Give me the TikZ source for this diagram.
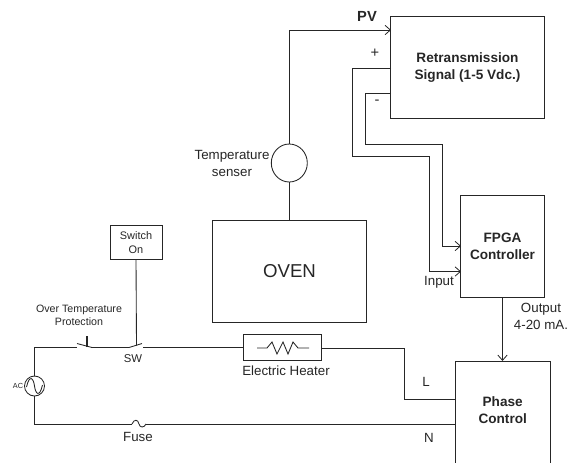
\documentclass[tikz,border=0pt]{standalone}
\usepackage{fontspec}
\setmainfont{Liberation Sans}
\usetikzlibrary{arrows.meta,positioning,shapes.geometric,calc}
\tikzset{every node/.append style={inner sep=0pt,outer sep=0pt,align=center}}

\begin{document}
\begin{tikzpicture}[x=0.75pt,y=-0.75pt,line width=0.65pt,black!85,
  lab/.style={font=\fontsize{10}{12.7}\selectfont,text=black!85},
  tiny/.style={font=\fontsize{8.2}{10.5}\selectfont,text=black!85},
  head/.style={font=\fontsize{10.2}{12.7}\selectfont\bfseries,text=black!85},
  box/.style={draw,rectangle},
  wire/.style={-{Straight Barb[length=4pt,width=7pt,line width=0.6pt]}}]
\useasboundingbox (0,0) rectangle (577,462);
\clip (0,0) rectangle (577,462);
% blocks
\node[box,head,minimum width=115pt,minimum height=76pt] (retrans) at (467.5,67.5) {Retransmission\\Signal (1-5 Vdc.)};
\node[box,head,minimum width=62.5pt,minimum height=76.5pt] (fpga) at (502.5,246) {FPGA\\Controller};
\node[box,minimum width=71.5pt,minimum height=80pt] (phase) at (502.7,414.3) {};
\node[head] (phaselab) at (502.7,410.5) {Phase\\Control};
\node[box,font=\fontsize{14}{16}\selectfont,text=black!85,minimum width=115pt,minimum height=76.5pt] (oven) at (289.5,271) {OVEN};
\node[box,tiny,minimum width=39pt,minimum height=25pt] (swon) at (136,242.5) {Switch\\On};
\node[box,minimum width=58pt,minimum height=19pt] (heater) at (282.5,347.5) {};
\node[draw,ellipse,minimum width=27pt,minimum height=28.5pt] (sensor) at (289.3,163) {};
\node[draw,circle,minimum size=15pt] (ac) at (34.5,386) {};
% free ends
\coordinate (pvcorner) at (289.3,30);
\coordinate (pvin) at (391,30);
\coordinate (pluso) at (391,68);
\coordinate (minuso) at (391,93);
\coordinate (plusin) at (461,271.5);
\coordinate (minusin) at (461,246);
\coordinate (lout) at (455,399);
\coordinate (nout) at (455,424);
\coordinate (lwire) at (321,348);
\coordinate (acup) at (34.5,347.5);
\coordinate (acdown) at (34.5,424);
\coordinate (otpa) at (77,347.5);
\coordinate (otpb) at (92,347.5);
\coordinate (swa) at (129,347.5);
\coordinate (swb) at (143,347.5);
\coordinate (swtop) at (136.5,345.5);
\coordinate (fusea) at (132,424);
\coordinate (fuseb) at (146,424);
% signal wires
\draw[wire] (sensor.north) -- (pvcorner) -- (pvin);
\draw (sensor.south) -- (oven.north -| sensor.south);
\draw[wire] (pluso) -- (352.7,68) -- (352.7,156.5) -- (429.5,156.5) -- (429.5,271.5) -- (plusin);
\draw[wire] (minuso) -- (365.7,93) -- (365.7,144) -- (442.3,144) -- (442.3,246) -- (minusin);
\draw[wire] (fpga.south) -- (phase.north -| fpga.south);
\draw (swon.south) -- (swtop);
% power loop
\draw (ac.north) -- (acup) -- (otpa);
\draw (otpb) -- (swa);
\draw (swb) -- (heater.west |- swb);
\draw (lwire) -- (404,348) -- (404,399) -- (lout);
\draw (ac.south) -- (acdown) -- (fusea);
\draw (fuseb) -- (nout);
\draw (fusea) .. controls (134,419) and (138,419) .. (139,424) .. controls (140,428) and (144,428) .. (fuseb);
\draw (77,343.5) -- (otpb);
\draw[line width=0.9pt] (87,347) -- (87,336);
\draw (swa) -- (142,343.5);
% heater zigzag and source wave
\draw (257,348) -- (267,348) -- (272,342) -- (277,354) -- (283,342) -- (288,354) -- (293,342) -- (298,348) -- (309,348);
\draw ($(ac)+(-8,1)$) .. controls ($(ac)+(-5,-12)$) and ($(ac)+(-1,-8)$) .. (ac.center) .. controls ($(ac)+(1,8)$) and ($(ac)+(5,12)$) .. ($(ac)+(8,-1)$);
% labels
\node[head,font=\fontsize{11}{12}\selectfont\bfseries] (pvlab) at (367,16) {PV};
\node[lab,font=\fontsize{11}{12}\selectfont] (pluslab) at (375,53) {+};
\node[lab,font=\fontsize{11}{12}\selectfont] (minuslab) at (377,102) {-};
\node[lab] (inputlab) at (439,282) {Input};
\node[lab] (outputlab) at (541,316.5) {Output\\4-20 mA.};
\node[lab] (senslab) at (232,163.5) {Temperature\\senser};
\node[lab,font=\fontsize{8}{9.5}\selectfont] (otplab) at (79,315.5) {Over Temperature\\Protection};
\node[lab,font=\fontsize{8.5}{10}\selectfont] (swlab) at (133,359) {SW};
\node[lab] (heatlab) at (286,370.5) {Electric Heater};
\node[lab] (fuselab) at (138,437) {Fuse};
\node[font=\fontsize{5.5}{7}\selectfont,text=black!85] (aclab) at (18,386) {AC};
\node[lab] (llab) at (426,382) {L};
\node[lab] (nlab) at (429,438) {N};
\end{tikzpicture}
\end{document}
